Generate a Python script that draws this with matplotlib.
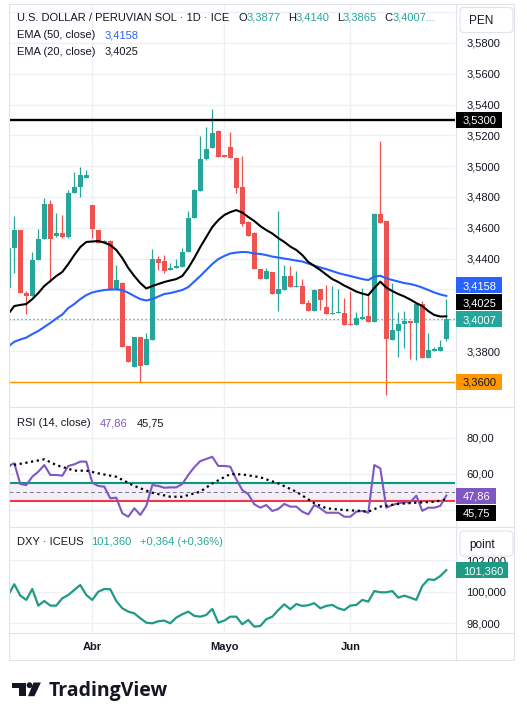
import numpy as np
import matplotlib
matplotlib.use("Agg")
import matplotlib.pyplot as plt
from matplotlib.patches import Rectangle, FancyBboxPatch, Circle, Polygon
from matplotlib.ticker import FuncFormatter

plt.rcParams['font.family'] = ['Liberation Sans', 'DejaVu Sans']

# ---------------- data (USD/PEN daily, 12 Mar - 24 Jun) ----------------
opens = [3.4209, 3.4468, 3.4585, 3.4178, 3.4159, 3.4391, 3.4527, 3.4754, 3.4546, 3.4566,
         3.4540, 3.4826, 3.4865, 3.4923, 3.4748, 3.4585, 3.4503, 3.4516, 3.4196, 3.4243,
         3.3832, 3.3696, 3.3891, 3.3709, 3.3871, 3.4395, 3.4384, 3.4326, 3.4342, 3.4345,
         3.4443, 3.4661, 3.4841, 3.5045, 3.5118, 3.5228, 3.5073, 3.5126, 3.5051, 3.4863,
         3.4637, 3.4569, 3.4330, 3.4265, 3.4313, 3.4170, 3.4196, 3.4287, 3.4213, 3.4222,
         3.4111, 3.4061, 3.4200, 3.4083, 3.4038, 3.4045, 3.4046, 3.3975, 3.3969, 3.4011,
         3.4027, 3.3991, 3.4689, 3.4641, 3.3871, 3.3933, 3.3975, 3.3997, 3.3984, 3.4105,
         3.3756, 3.3803, 3.3802, 3.3877]
highs = [3.4494, 3.4676, 3.4585, 3.4189, 3.4443, 3.4592, 3.4793, 3.4780, 3.4696, 3.4683,
         3.4845, 3.4962, 3.4995, 3.4975, 3.4748, 3.4585, 3.4520, 3.4520, 3.4358, 3.4250,
         3.3832, 3.3891, 3.3891, 3.3919, 3.4462, 3.4418, 3.4423, 3.4371, 3.4397, 3.4472,
         3.4712, 3.4852, 3.5196, 3.5254, 3.5371, 3.5235, 3.5073, 3.5224, 3.5060, 3.5066,
         3.4644, 3.4574, 3.4332, 3.4337, 3.4313, 3.4709, 3.4358, 3.4352, 3.4319, 3.4267,
         3.4131, 3.4202, 3.4202, 3.4228, 3.4222, 3.4200, 3.4144, 3.4189, 3.4055, 3.4212,
         3.4170, 3.4696, 3.5163, 3.4644, 3.4239, 3.4055, 3.4061, 3.3997, 3.4105, 3.4124,
         3.3917, 3.3826, 3.3871, 3.4140]
lows = [3.4196, 3.4306, 3.4176, 3.4040, 3.4157, 3.4391, 3.4527, 3.4261, 3.4540, 3.4533,
        3.4533, 3.4826, 3.4800, 3.4923, 3.4533, 3.4501, 3.4501, 3.4196, 3.4196, 3.3828,
        3.3728, 3.3696, 3.3600, 3.3709, 3.3871, 3.4326, 3.4306, 3.4326, 3.4339, 3.4345,
        3.4443, 3.4661, 3.4839, 3.5040, 3.5118, 3.5060, 3.5060, 3.5051, 3.4826, 3.4611,
        3.4546, 3.4330, 3.4265, 3.4265, 3.4170, 3.4059, 3.4196, 3.4215, 3.4213, 3.4108,
        3.4063, 3.4061, 3.4066, 3.4040, 3.4038, 3.4045, 3.3969, 3.3969, 3.3969, 3.4011,
        3.3988, 3.3991, 3.4634, 3.3517, 3.3871, 3.3763, 3.3819, 3.3750, 3.3743, 3.3756,
        3.3756, 3.3800, 3.3802, 3.3865]
closes = [3.4468, 3.4585, 3.4176, 3.4159, 3.4391, 3.4527, 3.4754, 3.4527, 3.4566, 3.4540,
          3.4826, 3.4865, 3.4943, 3.4943, 3.4592, 3.4501, 3.4516, 3.4196, 3.4261, 3.3828,
          3.3730, 3.3891, 3.3702, 3.3878, 3.4397, 3.4371, 3.4321, 3.4339, 3.4348, 3.4443,
          3.4661, 3.4845, 3.5045, 3.5110, 3.5217, 3.5060, 3.5060, 3.5051, 3.4856, 3.4624,
          3.4546, 3.4330, 3.4265, 3.4319, 3.4170, 3.4200, 3.4287, 3.4215, 3.4222, 3.4108,
          3.4063, 3.4199, 3.4133, 3.4040, 3.4042, 3.4048, 3.3969, 3.3969, 3.4012, 3.4024,
          3.3988, 3.4689, 3.4634, 3.3881, 3.3936, 3.3975, 3.3995, 3.3985, 3.4104, 3.3756,
          3.3806, 3.3810, 3.3828, 3.4007]
ema20 = [3.4040, 3.4092, 3.4099, 3.4105, 3.4137, 3.4176, 3.4222, 3.4254, 3.4287, 3.4313,
         3.4365, 3.4423, 3.4475, 3.4508, 3.4511, 3.4514, 3.4504, 3.4488, 3.4456, 3.4404,
         3.4339, 3.4287, 3.4241, 3.4206, 3.4222, 3.4235, 3.4248, 3.4258, 3.4267, 3.4287,
         3.4339, 3.4404, 3.4475, 3.4540, 3.4605, 3.4650, 3.4683, 3.4702, 3.4715, 3.4699,
         3.4670, 3.4644, 3.4611, 3.4585, 3.4563, 3.4533, 3.4508, 3.4478, 3.4456, 3.4423,
         3.4378, 3.4352, 3.4326, 3.4296, 3.4267, 3.4248, 3.4225, 3.4206, 3.4186, 3.4173,
         3.4163, 3.4209, 3.4250, 3.4212, 3.4189, 3.4170, 3.4154, 3.4134, 3.4111, 3.4092,
         3.4059, 3.4034, 3.4024, 3.4025]
ema50 = [3.3829, 3.3860, 3.3875, 3.3887, 3.3910, 3.3930, 3.3956, 3.3982, 3.4011, 3.4037,
         3.4079, 3.4105, 3.4137, 3.4163, 3.4180, 3.4189, 3.4196, 3.4199, 3.4200, 3.4196,
         3.4178, 3.4157, 3.4137, 3.4128, 3.4137, 3.4154, 3.4170, 3.4176, 3.4186, 3.4196,
         3.4215, 3.4251, 3.4287, 3.4326, 3.4365, 3.4397, 3.4417, 3.4433, 3.4439, 3.4443,
         3.4441, 3.4433, 3.4430, 3.4423, 3.4413, 3.4407, 3.4400, 3.4394, 3.4387, 3.4381,
         3.4368, 3.4355, 3.4342, 3.4332, 3.4319, 3.4306, 3.4296, 3.4287, 3.4277, 3.4267,
         3.4261, 3.4282, 3.4289, 3.4272, 3.4261, 3.4251, 3.4241, 3.4235, 3.4225, 3.4212,
         3.4196, 3.4180, 3.4167, 3.4158]
rsi = [64.3, 65.8, 54.3, 53.7, 58.3, 61.1, 64.8, 59.3, 59.3, 58.9,
       64.3, 65.2, 66.7, 66.7, 55.0, 53.2, 52.8, 46.3, 46.7, 38.0,
       36.1, 40.8, 37.1, 42.1, 53.7, 53.2, 52.2, 52.4, 52.4, 54.3,
       59.3, 63.6, 67.0, 68.2, 69.4, 64.3, 64.3, 63.9, 56.9, 50.9,
       48.6, 43.0, 41.1, 42.6, 39.3, 40.4, 43.2, 41.7, 41.7, 38.9,
       37.4, 42.6, 40.8, 38.3, 38.3, 38.3, 36.1, 36.1, 38.9, 39.3,
       38.3, 64.8, 63.0, 41.1, 42.6, 43.6, 44.1, 44.1, 47.8, 39.4,
       41.1, 41.1, 42.1, 47.86]
rsi_ma_idx = [0, 3, 6, 8, 11, 13, 15, 18, 21, 24, 27, 29, 32, 34, 37,
              39, 42, 45, 48, 51, 53, 56, 59, 60, 62, 65, 68, 71, 73]
rsi_ma = [64.3, 66.1, 68.0, 64.8, 61.7, 61.7, 60.2, 58.3, 53.2, 49.4, 47.2, 47.2, 50.0, 54.6, 59.8,
          59.6, 58.0, 54.6, 50.0, 43.6, 40.8, 39.8, 39.3, 38.9, 41.7, 43.2, 43.9, 44.4, 45.75]
dxy = [99.79, 100.47, 99.75, 99.48, 100.17, 99.12, 99.41, 99.12, 99.12, 99.58,
       99.79, 100.11, 100.42, 99.79, 99.48, 100.00, 100.17, 100.15, 99.41, 98.95,
       98.74, 98.63, 98.32, 98.04, 98.00, 98.13, 98.17, 98.00, 98.36, 98.57,
       98.74, 98.47, 98.42, 98.53, 98.91, 98.04, 98.17, 98.42, 98.42, 97.94,
       98.21, 97.79, 97.83, 98.26, 98.42, 98.84, 99.20, 98.89, 99.22, 99.10,
       99.14, 99.27, 98.95, 99.10, 99.16, 98.95, 98.84, 99.12, 99.16, 99.48,
       99.37, 100.04, 99.96, 99.96, 100.04, 99.62, 99.75, 99.62, 99.48, 100.36,
       100.78, 100.74, 100.99, 101.36]
dxy_change, dxy_change_pct = 0.364, 0.36
month_idx = [14, 36, 57]
month_labels = ["Abr", "Mayo", "Jun"]
price_ticks = [3.36, 3.38, 3.40, 3.42, 3.44, 3.46, 3.48, 3.50, 3.52, 3.54, 3.56, 3.58, 3.60]
rsi_ticks = [40, 60, 80]
dxy_ticks = [98, 100, 102]
resistance_level = 3.53
support_level = 3.36
rsi_upper, rsi_mid, rsi_lower = 55, 50, 45

# ---------------- style ----------------
GREEN = '#26a69a'
RED = '#ef5350'
BLUE = '#2962ff'
PURPLE = '#7e57c2'
ORANGE = '#ff9800'
TXT = '#131722'
GRID = '#eef0f5'
BORDER = '#e0e3eb'
DXYC = '#1f9a85'
FS = 8


def fmt(v, d):
    return f"{v:.{d}f}".replace('.', ',')


W, H = 527, 705
fig = plt.figure(figsize=(W / 100, H / 100), dpi=100)
fig.patch.set_facecolor('white')


def pane(x0, y0, x1, y1):
    return fig.add_axes([x0 / W, 1 - y1 / H, (x1 - x0) / W, (y1 - y0) / H])


ax_p = pane(9, 4, 455, 406)
ax_r = pane(9, 407, 455, 526)
ax_d = pane(9, 527, 455, 632)
n = len(closes)
xs = np.arange(n)
hidden = {}

for ax, ticks, dec in ((ax_p, price_ticks, 4), (ax_r, rsi_ticks, 2), (ax_d, dxy_ticks, 3)):
    hidden[ax] = set()
    ax.set_xlim(0.12, 74.45)
    for s in ax.spines.values():
        s.set_visible(False)
    ax.set_xticks(month_idx)
    ax.tick_params(axis='x', length=0, labelbottom=False)
    ax.yaxis.tick_right()
    ax.set_yticks(ticks)
    ax.yaxis.set_major_formatter(FuncFormatter(
        lambda v, p, d=dec, a=ax: '' if round(v, 4) in hidden[a] else fmt(v, d)))
    ax.tick_params(axis='y', length=0, pad=8, labelsize=FS, labelcolor=TXT)
    ax.grid(True, color=GRID, lw=1)
    ax.set_axisbelow(True)

ax_p.set_ylim(3.3443, 3.6053)
ax_r.set_ylim(30.94, 97.06)
ax_d.set_ylim(97.45, 104.09)

# ---- candles ----
o = np.array(opens); c = np.array(closes); hi = np.array(highs); lo = np.array(lows)
cols = np.where(c >= o, GREEN, RED)
ax_p.vlines(xs, lo, hi, colors=cols, lw=0.9, zorder=2)
ax_p.bar(xs, np.maximum(np.abs(c - o), 0.0007), bottom=np.minimum(o, c), width=0.78,
         color=cols, lw=0, zorder=3)
ax_p.axhline(closes[-1], color=GREEN, lw=0.9, ls=(0, (1, 2.2)), zorder=1)
ax_p.plot(xs, ema50, color=BLUE, lw=1.5, zorder=4)
ax_p.plot(xs, ema20, color='black', lw=1.5, zorder=5)
ax_p.axhline(resistance_level, color='black', lw=1.7, zorder=6)
ax_p.axhline(support_level, color=ORANGE, lw=1.0, zorder=6)

# ---- RSI ----
ax_r.axhspan(rsi_lower, rsi_upper, color=PURPLE, alpha=0.09, lw=0)
ax_r.axhline(rsi_upper, color='#089981', lw=1.5)
ax_r.axhline(rsi_lower, color='#f23645', lw=1.5)
ax_r.axhline(rsi_mid, color='#787b86', lw=0.7, ls=(0, (4, 3)))
ax_r.plot(xs, rsi, color=PURPLE, lw=1.5, zorder=4)
ax_r.plot(rsi_ma_idx, rsi_ma, color='black', lw=1.6, ls=(0, (1, 1.6)), zorder=5)

# ---- DXY ----
ax_d.plot(xs, dxy, color=DXYC, lw=1.6)

# ---------------- overlay (pixel coordinates) ----------------
ov = fig.add_axes([0, 0, 1, 1], zorder=10)
ov.set_xlim(0, W); ov.set_ylim(H, 0); ov.axis('off'); ov.patch.set_alpha(0)
renderer = fig.canvas.get_renderer()

ov.add_patch(Rectangle((8.5, 3.5), 505, 656, fill=False, ec=BORDER, lw=0.8))
for yy in (406.5, 526.5, 632.5):
    ov.plot([8.5, 513.5], [yy, yy], color=BORDER, lw=0.8)
ov.plot([455.5, 455.5], [3.5, 659.5], color=BORDER, lw=0.8)


def ypix(ax, v):
    return H - ax.transData.transform((0, v))[1]


def xpix(ax, v):
    return ax.transData.transform((v, 0))[0]


def box(yc, text, fc, tc='white'):
    t = ov.text(463, yc, text, color=tc, fontsize=FS, va='center_baseline', ha='left', zorder=3)
    w = t.get_window_extent(renderer).width
    ov.add_patch(Rectangle((456, yc - 8), 463 + w + 5 - 456, 16, fc=fc, ec='none', zorder=2))


def hide_ticks(ax, ticks, centers, lo_hi=()):
    for tv in ticks:
        yt = ypix(ax, tv)
        if any(abs(yt - yc) < 10 for yc in centers) or any(a <= yt <= b for a, b in lo_hi):
            hidden[ax].add(round(tv, 4))


def place(ax, fixed, others, ticks, h=17, extra=()):
    yf = ypix(ax, fixed[0])
    out = [(yf, fixed)]
    ups = sorted([q for q in others if ypix(ax, q[0]) <= yf], key=lambda q: -ypix(ax, q[0]))
    downs = sorted([q for q in others if ypix(ax, q[0]) > yf], key=lambda q: ypix(ax, q[0]))
    prev = yf
    for q in ups:
        prev = min(ypix(ax, q[0]), prev - h); out.append((prev, q))
    prev = yf
    for q in downs:
        prev = max(ypix(ax, q[0]), prev + h); out.append((prev, q))
    for yc, q in out:
        box(yc, fmt(q[0], q[1]), q[2], q[3])
    hide_ticks(ax, ticks, [yc for yc, q in out], extra)


place(ax_p, (closes[-1], 4, GREEN, 'white'),
      [(ema20[-1], 4, 'black', 'white'), (ema50[-1], 4, BLUE, 'white'),
       (resistance_level, 4, 'black', 'white'), (support_level, 4, ORANGE, TXT)],
      price_ticks, extra=[(5, 34)])
place(ax_r, (rsi[-1], 2, PURPLE, 'white'), [(rsi_ma[-1], 2, 'black', 'white')], rsi_ticks)
place(ax_d, (dxy[-1], 3, DXYC, 'white'), [], dxy_ticks)

for yy, lab in ((7.5, 'PEN'), (531, 'point')):
    ov.add_patch(FancyBboxPatch((460, yy), 53, 25, boxstyle='round,pad=0,rounding_size=4',
                                fc='white', ec=BORDER, lw=0.8, zorder=4))
    ov.text(469, yy + 12.5, lab, color=TXT, fontsize=FS + 0.5, va='center_baseline',
            ha='left', zorder=5)


def chain(x, y, parts):
    for s, col, gap in parts:
        t = ov.text(x, y, s, color=col, fontsize=FS, va='baseline', ha='left')
        x += t.get_window_extent(renderer).width + gap


chain(17, 21, [("U.S. DOLLAR / PERUVIAN SOL \u00b7 1D \u00b7 ICE", TXT, 9),
               ("O", TXT, 0), (fmt(opens[-1], 4), GREEN, 7),
               ("H", TXT, 0), (fmt(highs[-1], 4), GREEN, 7),
               ("L", TXT, 0), (fmt(lows[-1], 4), GREEN, 7),
               ("C", TXT, 0), (fmt(closes[-1], 4) + "...", GREEN, 0)])
chain(17, 38, [("EMA (50, close)", TXT, 9), (fmt(ema50[-1], 4), BLUE, 0)])
chain(17, 55, [("EMA (20, close)", TXT, 9), (fmt(ema20[-1], 4), TXT, 0)])
chain(17, 426, [("RSI (14, close)", TXT, 9), (fmt(rsi[-1], 2), PURPLE, 9),
                (fmt(rsi_ma[-1], 2), TXT, 0)])
chain(17, 545, [("DXY \u00b7 ICEUS", TXT, 8), (fmt(dxy[-1], 3), GREEN, 8),
                ("+" + fmt(dxy_change, 3) + " (+" + fmt(dxy_change_pct, 2) + "%)", GREEN, 0)])

for i, lab in zip(month_idx, month_labels):
    ov.text(xpix(ax_d, i), 650, lab, color=TXT, fontsize=FS, fontweight='bold',
            ha='center', va='baseline')

# TradingView logo
ov.add_patch(Rectangle((11.8, 682.5), 14.3, 5.9, fc=TXT, ec='none'))
ov.add_patch(Rectangle((19.4, 682.5), 6.7, 13.7, fc=TXT, ec='none'))
ov.add_patch(Circle((29.5, 685.2), 2.9, fc=TXT, ec='none'))
ov.add_patch(Polygon([(33.5, 682.5), (40.9, 682.5), (34.4, 696.2), (28.0, 696.2)],
                     closed=True, fc=TXT, ec='none'))
ov.text(49.0, 696.2, "TradingView", color=TXT, fontsize=14, fontweight='bold',
        family=['Open Sans', 'DejaVu Sans'], ha='left', va='baseline')

fig.savefig('out.png', dpi=100)
